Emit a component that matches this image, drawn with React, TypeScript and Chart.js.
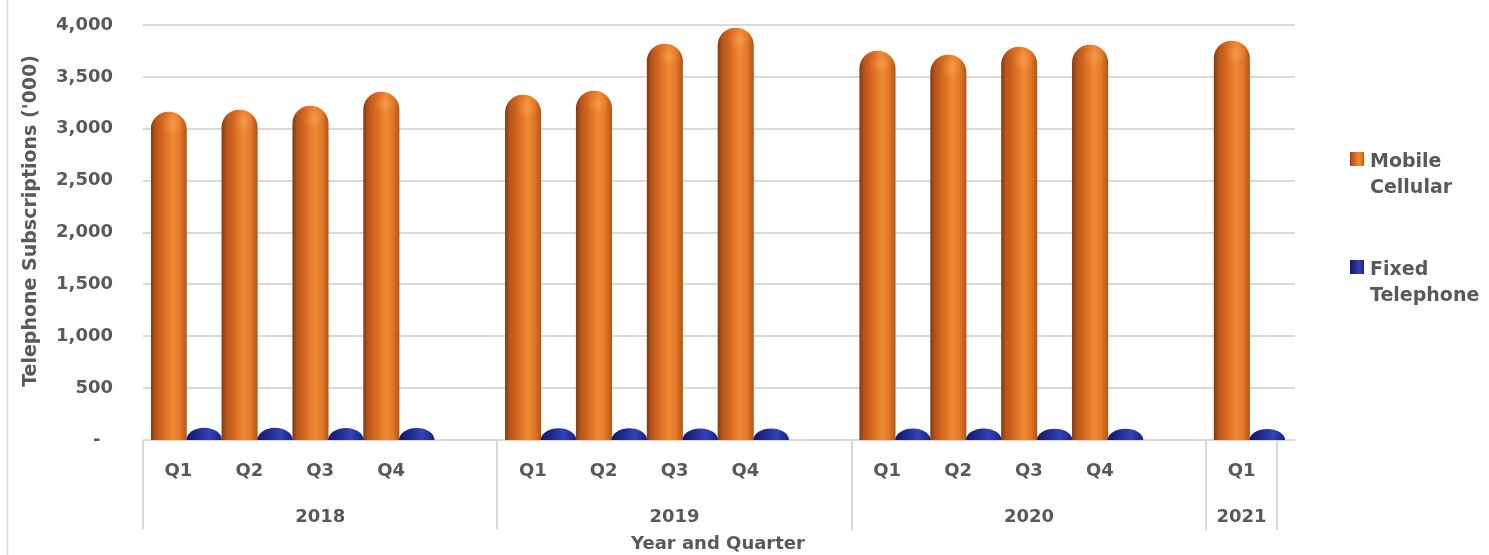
import { useEffect, useRef } from 'react';
import { Chart, registerables } from 'chart.js';

Chart.register(...registerables);

// ---- data ----
const yearLabels = ['2018', '2019', '2020', '2021'];
const quarters2018 = ['Q1', 'Q2', 'Q3', 'Q4'];
const quarters2019 = ['Q1', 'Q2', 'Q3', 'Q4'];
const quarters2020 = ['Q1', 'Q2', 'Q3', 'Q4'];
const quarters2021 = ['Q1'];

const mobile2018 = [3161, 3181, 3219, 3354];
const mobile2019 = [3325, 3364, 3817, 3971];
const mobile2020 = [3749, 3711, 3788, 3807];
const mobile2021 = [3846];

const fixed2018 = [118, 117, 116, 115];
const fixed2019 = [113, 114, 112, 111];
const fixed2020 = [110, 111, 109, 108];
const fixed2021 = [107];

const seriesNames = ['Mobile Cellular', 'Fixed Telephone'];
const yMin = 0;
const yMax = 4000;
const yStep = 500;
const yTitle = "Telephone Subscriptions ('000)";
const xTitle = 'Year and Quarter';

// ---- build slots (a blank slot between years) ----
const quarterGroups = [quarters2018, quarters2019, quarters2020, quarters2021];
const mobileGroups = [mobile2018, mobile2019, mobile2020, mobile2021];
const fixedGroups = [fixed2018, fixed2019, fixed2020, fixed2021];

const slotLabels: string[] = [];
const mobileSlots: (number | null)[] = [];
const fixedSlots: (number | null)[] = [];
const groupBounds: number[] = [0];
quarterGroups.forEach((qs, g) => {
  qs.forEach((q, i) => {
    slotLabels.push(q);
    mobileSlots.push(mobileGroups[g][i]);
    fixedSlots.push(fixedGroups[g][i]);
  });
  if (g < quarterGroups.length - 1) {
    slotLabels.push('');
    mobileSlots.push(null);
    fixedSlots.push(null);
  }
  groupBounds.push(slotLabels.length);
});

// ---- style ----
const FONT = '"DejaVu Sans", "Liberation Sans", sans-serif';
const TEXT = '#595959';
const GRID = '#d9d9d9';
const SHIFT = 8; // 3D depth offset of columns vs. category labels

function orangeGradient(ctx: CanvasRenderingContext2D, x0: number, x1: number) {
  const g = ctx.createLinearGradient(x0, 0, x1, 0);
  g.addColorStop(0, '#853c12');
  g.addColorStop(0.12, '#b5541a');
  g.addColorStop(0.35, '#d8691f');
  g.addColorStop(0.62, '#ef8a35');
  g.addColorStop(0.82, '#e27828');
  g.addColorStop(1, '#b3571b');
  return g;
}
function blueGradient(ctx: CanvasRenderingContext2D, x0: number, x1: number) {
  const g = ctx.createLinearGradient(x0, 0, x1, 0);
  g.addColorStop(0, '#141866');
  g.addColorStop(0.4, '#252f98');
  g.addColorStop(0.65, '#3343b6');
  g.addColorStop(1, '#1b2280');
  return g;
}

const decor = {
  id: 'decor',
  beforeDraw(chart: any) {
    const { ctx } = chart;
    ctx.save();
    ctx.fillStyle = '#ffffff';
    ctx.fillRect(0, 0, chart.width, chart.height);
    ctx.strokeStyle = GRID;
    ctx.lineWidth = 1.5;
    ctx.beginPath();
    ctx.moveTo(7.5, 0);
    ctx.lineTo(7.5, chart.height);
    ctx.stroke();
    ctx.restore();
  },
  beforeDatasetsDraw(chart: any) {
    const { ctx, chartArea } = chart;
    const ys = chart.scales.y;
    ctx.save();
    ctx.strokeStyle = GRID;
    ctx.lineWidth = 2;
    for (let v = yMin; v <= yMax; v += yStep) {
      const py = Math.round(ys.getPixelForValue(v));
      ctx.beginPath();
      ctx.moveTo(chartArea.left - SHIFT, py);
      ctx.lineTo(chartArea.right + 10, py);
      ctx.stroke();
    }
    ctx.restore();
  },
  afterDatasetsDraw(chart: any) {
    const { ctx } = chart;
    ctx.save();
    // soft highlight on top of orange cylinders
    const m0 = chart.getDatasetMeta(0);
    m0.data.forEach((el: any, i: number) => {
      if (mobileSlots[i] == null) return;
      const { x, y, width } = el.getProps(['x', 'y', 'width'], true);
      const r = width / 2;
      const hx = x + r * 0.2;
      const hy = y + r * 0.7;
      const rg = ctx.createRadialGradient(hx, hy, 0, hx, hy, r * 0.6);
      rg.addColorStop(0, 'rgba(255,185,110,0.35)');
      rg.addColorStop(1, 'rgba(255,185,110,0)');
      ctx.fillStyle = rg;
      ctx.beginPath();
      ctx.arc(hx, hy, r * 0.6, 0, 2 * Math.PI);
      ctx.fill();
    });
    // blue domes
    const m1 = chart.getDatasetMeta(1);
    m1.data.forEach((el: any, i: number) => {
      if (fixedSlots[i] == null) return;
      const { x, y, base, width } = el.getProps(['x', 'y', 'base', 'width'], true);
      const h = base - y;
      ctx.fillStyle = blueGradient(ctx, x - width / 2, x + width / 2);
      ctx.beginPath();
      ctx.ellipse(x, base, width / 2, h, 0, Math.PI, 2 * Math.PI);
      ctx.closePath();
      ctx.fill();
    });
    ctx.restore();
  },
  afterDraw(chart: any) {
    const { ctx, chartArea } = chart;
    const xs = chart.scales.x;
    const catW = xs.width / slotLabels.length;
    ctx.save();
    // multi-level category separators
    ctx.strokeStyle = GRID;
    ctx.lineWidth = 2;
    groupBounds.forEach((b) => {
      const px = Math.round(xs.left + b * catW - SHIFT);
      ctx.beginPath();
      ctx.moveTo(px, chartArea.bottom);
      ctx.lineTo(px, chartArea.bottom + 90);
      ctx.stroke();
    });
    // year labels
    ctx.fillStyle = TEXT;
    ctx.font = `bold 18px ${FONT}`;
    ctx.textAlign = 'center';
    ctx.textBaseline = 'middle';
    yearLabels.forEach((yl, g) => {
      const a = xs.left + groupBounds[g] * catW - SHIFT;
      const b = xs.left + groupBounds[g + 1] * catW - SHIFT;
      ctx.fillText(yl, (a + b) / 2, chartArea.bottom + 77);
    });
    // y-axis title
    ctx.save();
    ctx.font = `bold 19px ${FONT}`;
    ctx.translate(31, 221);
    ctx.rotate(-Math.PI / 2);
    ctx.fillText(yTitle, 0, 0);
    ctx.restore();
    // legend
    const lx = 1350;
    const entries = [
      { lines: ['Mobile', 'Cellular'], top: 152, fill: orangeGradient(ctx, lx, lx + 14) },
      { lines: ['Fixed', 'Telephone'], top: 260, fill: blueGradient(ctx, lx, lx + 14) },
    ];
    ctx.font = `bold 19px ${FONT}`;
    ctx.textAlign = 'left';
    ctx.textBaseline = 'alphabetic';
    entries.forEach((e) => {
      ctx.fillStyle = e.fill;
      ctx.fillRect(lx, e.top, 14, 14);
      ctx.fillStyle = TEXT;
      e.lines.forEach((ln, k) => ctx.fillText(ln, lx + 20, e.top + 15 + k * 26));
    });
    ctx.restore();
  },
};

export default function App() {
  const ref = useRef<HTMLCanvasElement>(null);
  useEffect(() => {
    if (!ref.current) return;
    const chart = new Chart(ref.current, {
      type: 'bar',
      data: {
        labels: slotLabels,
        datasets: [
          {
            label: seriesNames[0],
            data: mobileSlots,
            backgroundColor: (c: any) => {
              const ch = c.chart;
              const xs = ch.scales?.x;
              if (!xs || c.dataIndex === undefined || !ch.chartArea) return '#d86a1e';
              const catW = xs.width / slotLabels.length;
              const cx = xs.getPixelForValue(c.dataIndex);
              return orangeGradient(ch.ctx, cx - catW / 2, cx);
            },
            borderWidth: 0,
            borderRadius: { topLeft: 18, topRight: 18, bottomLeft: 0, bottomRight: 0 },
            borderSkipped: 'start',
            barPercentage: 1,
            categoryPercentage: 1,
          },
          {
            label: seriesNames[1],
            data: fixedSlots,
            backgroundColor: 'rgba(0,0,0,0)',
            borderWidth: 0,
            barPercentage: 1,
            categoryPercentage: 1,
          },
        ],
      },
      plugins: [decor],
      options: {
        animation: false,
        responsive: true,
        maintainAspectRatio: false,
        layout: { padding: { top: 25, right: 204, left: 0, bottom: 0 } },
        plugins: {
          legend: { display: false },
          tooltip: { enabled: false },
          title: { display: false },
        },
        scales: {
          x: {
            grid: { display: false, drawTicks: false },
            border: { display: false },
            ticks: {
              autoSkip: false,
              maxRotation: 0,
              minRotation: 0,
              labelOffset: -SHIFT,
              padding: 21,
              color: TEXT,
              font: { family: FONT, size: 18, weight: 'bold' },
            },
            title: {
              display: true,
              text: xTitle,
              color: TEXT,
              font: { family: FONT, size: 18, weight: 'bold' },
              padding: { top: 0, bottom: 0 },
            },
            afterFit: (s: any) => {
              s.height = 115;
              s.paddingLeft = 0;
              s.paddingRight = 0;
            },
          },
          y: {
            min: yMin,
            max: yMax,
            grid: { display: false, drawTicks: false },
            border: { display: false },
            ticks: {
              stepSize: yStep,
              padding: 38,
              color: TEXT,
              font: { family: FONT, size: 18, weight: 'bold' },
              callback: (v: any) => (Number(v) === 0 ? '-  ' : Number(v).toLocaleString('en-US')),
            },
            afterFit: (s: any) => {
              s.width = 151;
              s.paddingTop = 0;
              s.paddingBottom = 0;
            },
          },
        },
      },
    });
    return () => chart.destroy();
  }, []);
  return (
    <div style={{ position: 'fixed', left: 0, top: 0, width: 1489, height: 555, background: '#fff' }}>
      <canvas ref={ref} />
    </div>
  );
}
